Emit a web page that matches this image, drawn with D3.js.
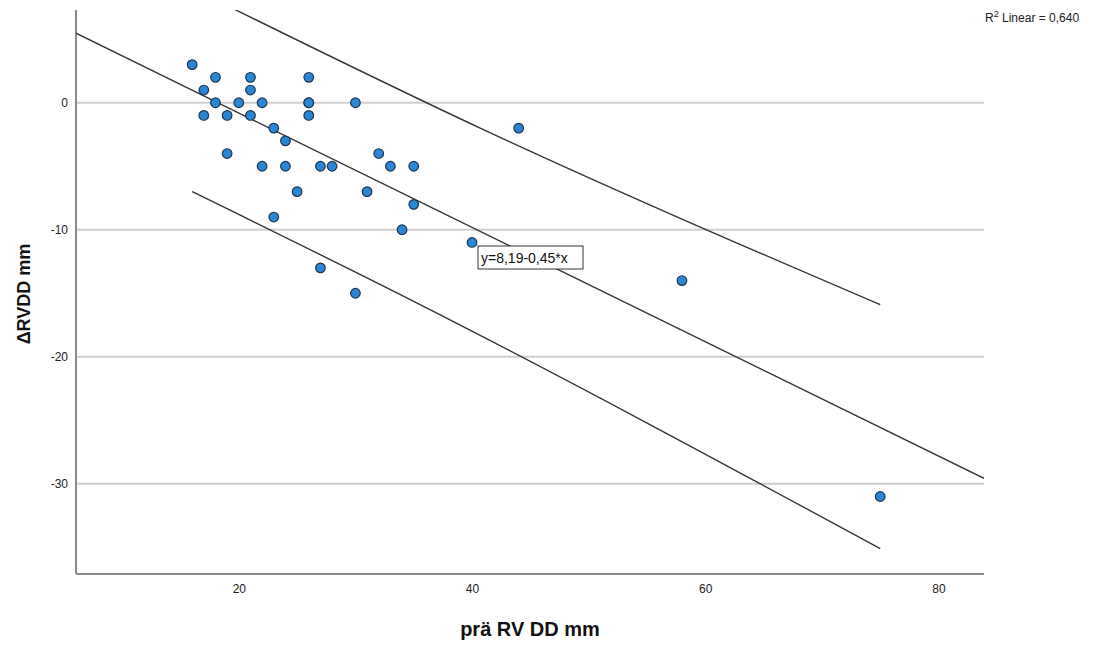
<!DOCTYPE html>
<html>
<head>
<meta charset="utf-8">
<script src="https://cdn.jsdelivr.net/npm/d3@7"></script>
<style>
  body { margin: 0; background: #fff; }
  text { font-family: "Liberation Sans", Arial, sans-serif; }
</style>
</head>
<body>
<script>
'use strict';

// data
const praRVDD = [16, 17, 17, 18, 18, 19, 19, 20, 21, 21, 21, 22, 22, 23, 23, 24, 24, 25,
  26, 26, 26, 26, 27, 27, 28, 30, 30, 31, 32, 33, 34, 35, 35, 40, 44, 58, 75];
const deltaRVDD = [3, 1, -1, 2, 0, -1, -4, 0, 2, 1, -1, 0, -5, -2, -9, -3, -5, -7,
  2, 0, 0, -1, -5, -13, -5, 0, -15, -7, -4, -5, -10, -5, -8, -11, -2, -14, -31];

const xTicks = [20, 40, 60, 80];
const yTicks = [0, -10, -20, -30];

// fit line end points and prediction interval lines, [x, y]
const fitLine = [[6.04, 5.47], [83.9, -29.57]];
const upperBand = [[16, 9.0], [40.7, -2.0], [75, -15.9]];
const lowerBand = [[16, -7.0], [34.7, -15.5], [75, -35.1]];

const fitLabel = "y=8,19-0,45*x";
const r2Label = "Linear = 0,640";

const width = 1101, height = 646;
const plot = {left: 76, right: 984, top: 10, bottom: 574};

const svg = d3.select('body').append('svg')
  .attr('width', width)
  .attr('height', height);

const x = d3.scaleLinear().domain([6.04, 83.9]).range([plot.left, plot.right]);
const y = d3.scaleLinear().domain([7.3, -37.1]).range([plot.top, plot.bottom]);

// grid lines
svg.append('g').selectAll('line')
  .data(yTicks)
  .enter().append('line')
  .attr('x1', plot.left).attr('x2', plot.right)
  .attr('y1', d => y(d)).attr('y2', d => y(d))
  .attr('stroke', '#cfcfcf')
  .attr('stroke-width', 2);

// axes without tick marks, plain hyphen for negatives like SPSS
const fmt = d => String(d);
const xAxis = d3.axisBottom(x).tickValues(xTicks).tickFormat(fmt).tickSize(0).tickPadding(10);
const gx = svg.append('g')
  .attr('transform', 'translate(0,' + plot.bottom + ')')
  .call(xAxis);
const yAxis = d3.axisLeft(y).tickValues(yTicks).tickFormat(fmt).tickSize(0).tickPadding(8);
const gy = svg.append('g')
  .attr('transform', 'translate(' + plot.left + ',0)')
  .call(yAxis);

[gx, gy].forEach(g => {
  g.select('.domain').attr('stroke', '#8a8a8a').attr('stroke-width', 2);
  g.selectAll('text')
    .style('font-size', '12px')
    .attr('fill', '#222');
});
gx.select('.domain').attr('d', 'M' + plot.left + ',0H' + plot.right);
gy.select('.domain').attr('d', 'M0,' + plot.top + 'V' + plot.bottom);

// clip for lines
svg.append('clipPath').attr('id', 'clip')
  .append('rect')
  .attr('x', plot.left).attr('y', plot.top)
  .attr('width', plot.right - plot.left)
  .attr('height', plot.bottom - plot.top);

const line = d3.line()
  .x(d => x(d[0]))
  .y(d => y(d[1]))
  .curve(d3.curveMonotoneX);

[fitLine, upperBand, lowerBand].forEach(pts => {
  svg.append('path')
    .attr('clip-path', 'url(#clip)')
    .attr('d', line(pts))
    .attr('fill', 'none')
    .attr('stroke', '#333')
    .attr('stroke-width', 1.4);
});

// points
svg.append('g').selectAll('circle')
  .data(praRVDD)
  .enter().append('circle')
  .attr('cx', d => x(d))
  .attr('cy', (d, i) => y(deltaRVDD[i]))
  .attr('r', 4.8)
  .attr('fill', '#2a86d6')
  .attr('stroke', '#1b3550')
  .attr('stroke-width', 1.2);

// equation label box
const lbl = svg.append('g').attr('transform', 'translate(478,246)');
lbl.append('rect')
  .attr('width', 105).attr('height', 23)
  .attr('fill', '#fff')
  .attr('stroke', '#333')
  .attr('stroke-width', 1);
lbl.append('text')
  .attr('x', 3).attr('y', 17)
  .style('font-size', '14px')
  .attr('fill', '#111')
  .text(fitLabel);

// R squared
const r2 = svg.append('text')
  .attr('x', 985).attr('y', 22)
  .style('font-size', '12px')
  .attr('fill', '#222');
r2.append('tspan').text('R');
r2.append('tspan').attr('dy', -5).style('font-size', '9px').text('2');
r2.append('tspan').attr('dy', 5).text(' ' + r2Label);

// axis titles
svg.append('text')
  .attr('x', 530).attr('y', 636)
  .attr('text-anchor', 'middle')
  .style('font-size', '20px')
  .style('font-weight', 'bold')
  .attr('fill', '#111')
  .text('prä RV DD mm');

svg.append('text')
  .attr('transform', 'translate(30,294)rotate(-90)')
  .attr('text-anchor', 'middle')
  .style('font-size', '18px')
  .style('font-weight', 'bold')
  .attr('fill', '#111')
  .text('ΔRVDD mm');
</script>
</body>
</html>
